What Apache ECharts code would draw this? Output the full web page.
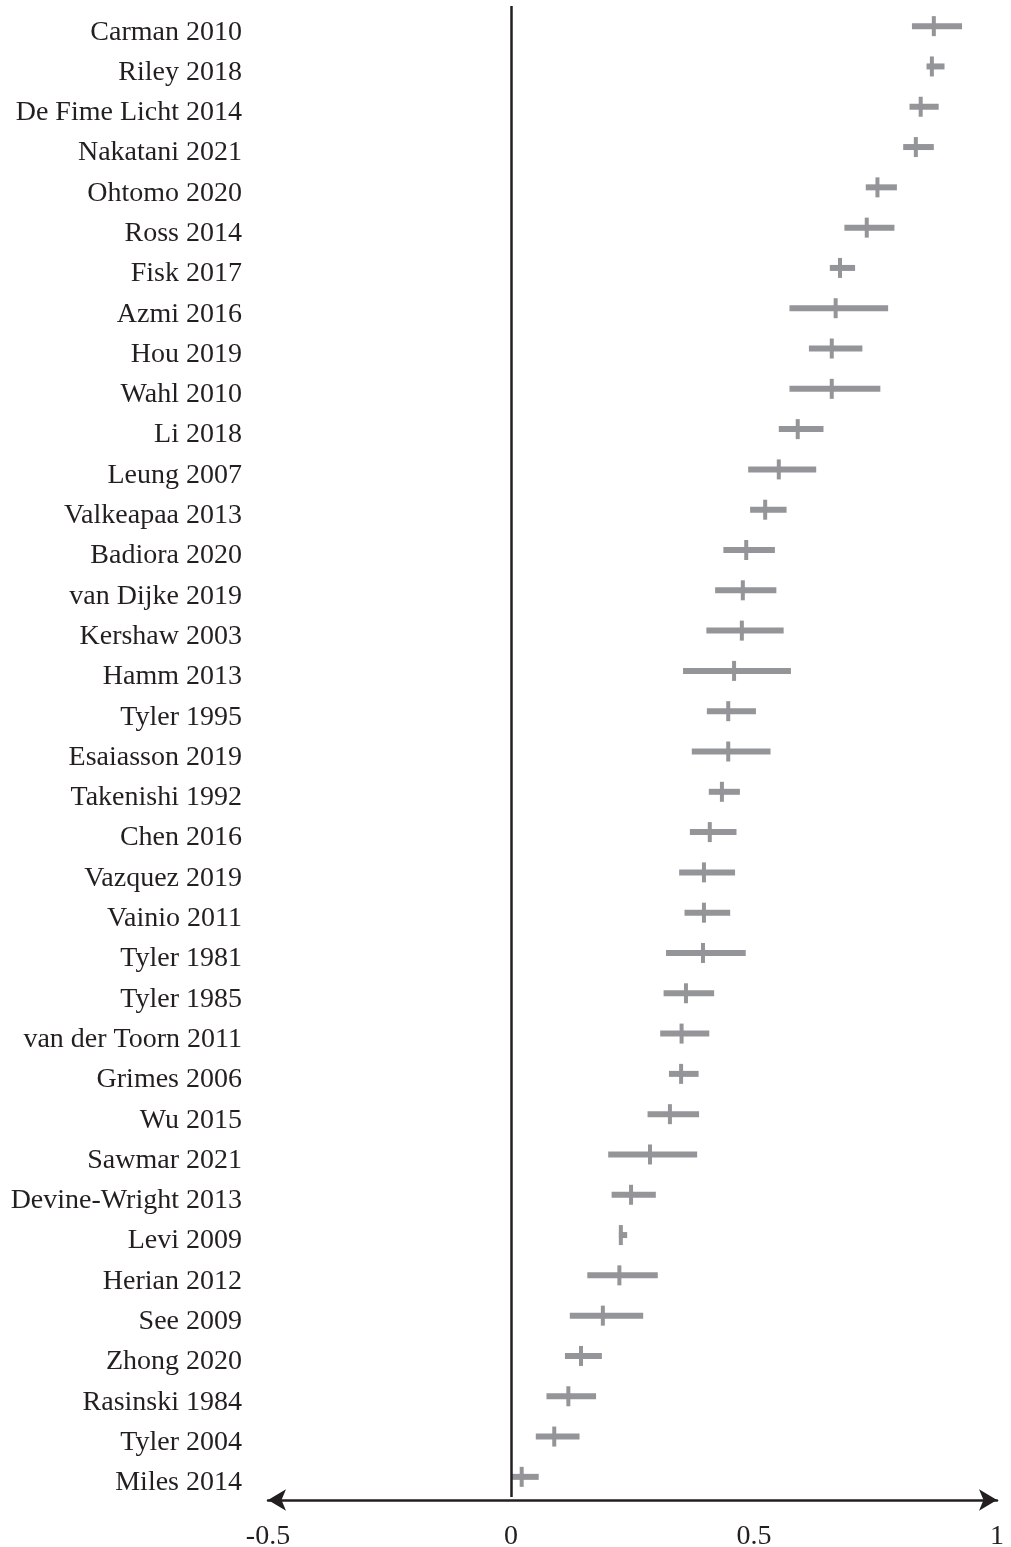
<!DOCTYPE html>
<html>
<head>
<meta charset="utf-8">
<script src="https://cdn.jsdelivr.net/npm/echarts@6/dist/echarts.min.js"></script>
<style>html,body{margin:0;padding:0;background:#fff}#c{width:1011px;height:1547px}</style>
</head>
<body>
<div id="c"></div>
<script>
var studies = ["Carman 2010","Riley 2018","De Fime Licht 2014","Nakatani 2021","Ohtomo 2020","Ross 2014","Fisk 2017","Azmi 2016","Hou 2019","Wahl 2010","Li 2018","Leung 2007","Valkeapaa 2013","Badiora 2020","van Dijke 2019","Kershaw 2003","Hamm 2013","Tyler 1995","Esaiasson 2019","Takenishi 1992","Chen 2016","Vazquez 2019","Vainio 2011","Tyler 1981","Tyler 1985","van der Toorn 2011","Grimes 2006","Wu 2015","Sawmar 2021","Devine-Wright 2013","Levi 2009","Herian 2012","See 2009","Zhong 2020","Rasinski 1984","Tyler 2004","Miles 2014"];
var estimate = [0.870,0.866,0.843,0.833,0.754,0.732,0.677,0.668,0.660,0.660,0.590,0.551,0.523,0.484,0.477,0.475,0.459,0.447,0.447,0.434,0.409,0.397,0.397,0.395,0.360,0.351,0.350,0.327,0.286,0.247,0.226,0.223,0.189,0.144,0.118,0.089,0.022];
var lower = [0.825,0.855,0.820,0.807,0.730,0.686,0.656,0.573,0.613,0.573,0.551,0.488,0.492,0.437,0.420,0.402,0.354,0.403,0.372,0.407,0.368,0.346,0.357,0.319,0.314,0.307,0.325,0.281,0.200,0.207,0.222,0.157,0.121,0.111,0.073,0.051,0.002];
var upper = [0.928,0.892,0.880,0.870,0.794,0.789,0.708,0.776,0.723,0.760,0.643,0.628,0.567,0.543,0.546,0.561,0.576,0.504,0.534,0.471,0.464,0.461,0.451,0.483,0.418,0.408,0.386,0.387,0.383,0.298,0.239,0.302,0.272,0.187,0.175,0.141,0.057];
var xTicks = [-0.5, 0, 0.5, 1];

var data = studies.map(function (s, i) { return [i, lower[i], upper[i], estimate[i]]; });
var BAR = '#939598';
var INK = '#231f20';
var FONT = '"Liberation Serif","Times New Roman",serif';

var chart = echarts.init(document.getElementById('c'), null, {renderer: 'canvas'});
chart.setOption({
  animation: false,
  backgroundColor: '#fff',
  grid: {left: 268, right: 14, top: 6, bottom: 50, containLabel: false, outerBoundsMode: 'none'},
  xAxis: {
    type: 'value', min: xTicks[0], max: xTicks[xTicks.length - 1], interval: 0.5,
    offset: 3,
    axisLine: {show: true, symbol: ['arrow', 'arrow'], symbolSize: [16, 18], lineStyle: {color: INK, width: 2.5}},
    axisTick: {show: false},
    splitLine: {show: false},
    axisLabel: {color: INK, fontFamily: FONT, fontSize: 28, margin: 23,
      formatter: function (v) { return String(v); }}
  },
  yAxis: {
    type: 'category', data: studies, inverse: true,
    axisLine: {show: false}, axisTick: {show: false}, splitLine: {show: false},
    axisLabel: {color: INK, fontFamily: FONT, fontSize: 28, margin: 26, verticalAlign: 'top', lineHeight: 12, interval: 0}
  },
  series: [{
    type: 'custom',
    data: data,
    encode: {x: [1, 2, 3], y: 0},
    renderItem: function (params, api) {
      var idx = api.value(0);
      var lo = api.coord([api.value(1), idx]);
      var hi = api.coord([api.value(2), idx]);
      var md = api.coord([api.value(3), idx]);
      var cy = lo[1];
      return {
        type: 'group',
        children: [
          {type: 'rect', shape: {x: lo[0], y: cy - 3, width: hi[0] - lo[0], height: 6}, style: {fill: BAR}},
          {type: 'rect', shape: {x: md[0] - 2, y: cy - 10, width: 4, height: 20}, style: {fill: BAR}}
        ]
      };
    },
    markLine: {
      silent: true, symbol: ['none', 'none'], label: {show: false},
      lineStyle: {color: INK, width: 2.5, type: 'solid'},
      data: [{xAxis: 0}]
    }
  }]
});
</script>
</body>
</html>
